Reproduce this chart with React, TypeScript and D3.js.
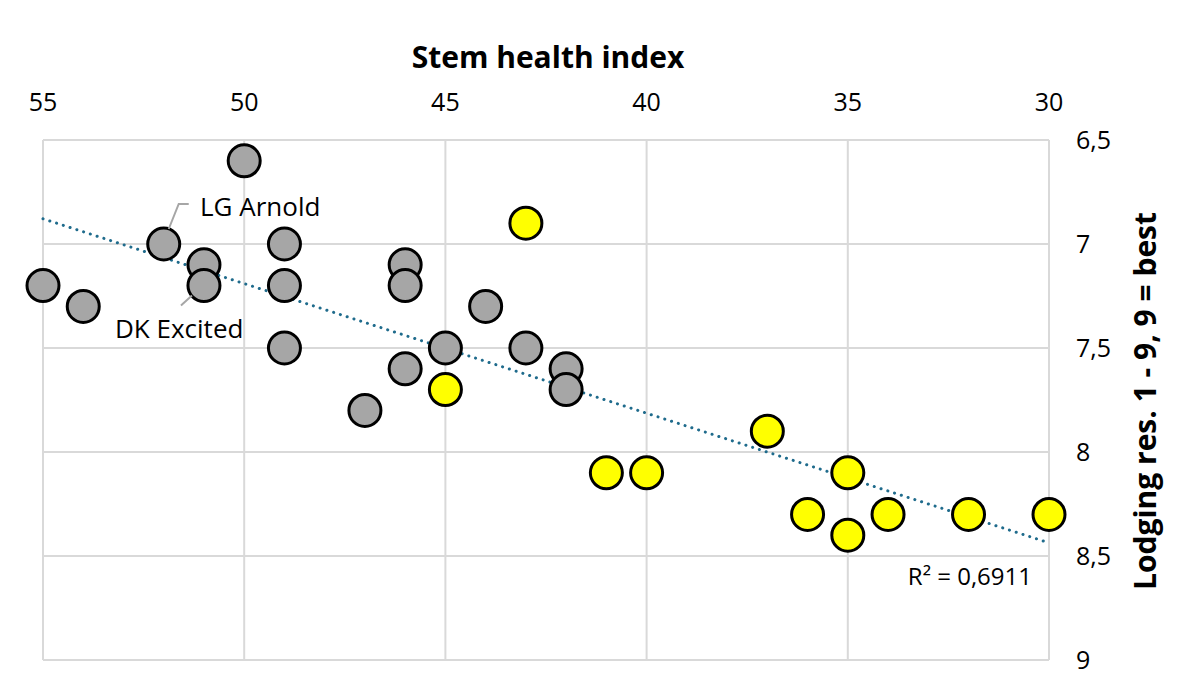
import React from 'react';
import * as d3 from 'd3';

// Stem health index (x) vs lodging resistance (y)
const grayX = [50, 52, 51, 49, 55, 54, 51, 49, 49, 46, 46, 44, 45, 43, 46, 42, 42, 47];
const grayY = [6.6, 7.0, 7.1, 7.0, 7.2, 7.3, 7.2, 7.2, 7.5, 7.1, 7.2, 7.3, 7.5, 7.5, 7.6, 7.6, 7.7, 7.8];
const yellowX = [43, 45, 37, 41, 40, 35, 36, 34, 32, 30, 35];
const yellowY = [6.9, 7.7, 7.9, 8.1, 8.1, 8.1, 8.3, 8.3, 8.3, 8.3, 8.4];

const xTicks = [55, 50, 45, 40, 35, 30];
const yTicks = [6.5, 7, 7.5, 8, 8.5, 9];

const W = 1200;
const H = 693;
const margin = { left: 43, right: 151, top: 140, bottom: 33 };

const fmt = (v: number) => String(v).replace('.', ',');
const font = '"Open Sans", "Noto Sans", sans-serif';

export default function App() {
  const x = d3.scaleLinear().domain([55, 30]).range([margin.left, W - margin.right]);
  const y = d3.scaleLinear().domain([6.5, 9]).range([margin.top, H - margin.bottom]);

  // linear trend over all points
  const allX = [...grayX, ...yellowX];
  const allY = [...grayY, ...yellowY];
  const mx = d3.mean(allX)!;
  const my = d3.mean(allY)!;
  const slope = d3.sum(allX, (v, i) => (v - mx) * (allY[i] - my)) / d3.sum(allX, (v) => (v - mx) ** 2);
  const icpt = my - slope * mx;
  const trend = d3.line<number>().x((v) => x(v)).y((v) => y(icpt + slope * v));

  const r = 16;

  return (
    <svg width={W} height={H} style={{ position: 'absolute', left: 0, top: 0, background: '#fff' }} fontFamily={font}>
      {/* grid */}
      {xTicks.map((t) => (
        <line key={'gx' + t} x1={x(t)} x2={x(t)} y1={y(6.5)} y2={y(9)} stroke="#d9d9d9" strokeWidth={2} />
      ))}
      {yTicks.map((t) => (
        <line key={'gy' + t} x1={x(55)} x2={x(30)} y1={y(t)} y2={y(t)} stroke="#d9d9d9" strokeWidth={2} />
      ))}

      {/* tick labels */}
      {xTicks.map((t) => (
        <text key={'tx' + t} x={x(t)} y={111} textAnchor="middle" fontSize={25} fill="#000">
          {t}
        </text>
      ))}
      {yTicks.map((t) => (
        <text key={'ty' + t} x={1076} y={y(t) + 9} textAnchor="start" fontSize={25} fill="#000">
          {fmt(t)}
        </text>
      ))}

      {/* axis titles */}
      <text x={548} y={68} textAnchor="middle" fontSize={30} fontWeight={700} fill="#000">
        Stem health index
      </text>
      <text
        transform={`translate(1156, ${(y(6.5) + y(9)) / 2 + 1}) rotate(-90)`}
        textAnchor="middle"
        fontSize={30}
        fontWeight={700}
        fill="#000"
      >
        Lodging res. 1 - 9, 9 = best
      </text>

      {/* trendline */}
      <path
        d={trend([55, 30])!}
        fill="none"
        stroke="#1f6b8c"
        strokeWidth={3}
        strokeDasharray="0.1 7"
        strokeLinecap="round"
      />

      {/* points */}
      {grayX.map((v, i) => (
        <circle key={'g' + i} cx={x(v)} cy={y(grayY[i])} r={r} fill="#a6a6a6" stroke="#000" strokeWidth={3} />
      ))}
      {yellowX.map((v, i) => (
        <circle key={'yl' + i} cx={x(v)} cy={y(yellowY[i])} r={r} fill="#ffff00" stroke="#000" strokeWidth={3} />
      ))}

      {/* data labels */}
      <polyline
        points={`${x(52) + 5},${y(7.0) - 15} ${x(52) + 15},${y(7.0) - 40} ${x(52) + 25},${y(7.0) - 40}`}
        fill="none"
        stroke="#a6a6a6"
        strokeWidth={2}
      />
      <text x={200} y={y(7.0) - 28} fontSize={26} fill="#000">
        LG Arnold
      </text>
      <line
        x1={x(51) - 23}
        y1={y(7.2) + 20}
        x2={x(51) - 12}
        y2={y(7.2) + 10}
        stroke="#a6a6a6"
        strokeWidth={2}
      />
      <text x={115} y={338} fontSize={26} fill="#000">
        DK Excited
      </text>

      <text x={1032} y={585} textAnchor="end" fontSize={24} fill="#000">
        R² = 0,6911
      </text>
    </svg>
  );
}
